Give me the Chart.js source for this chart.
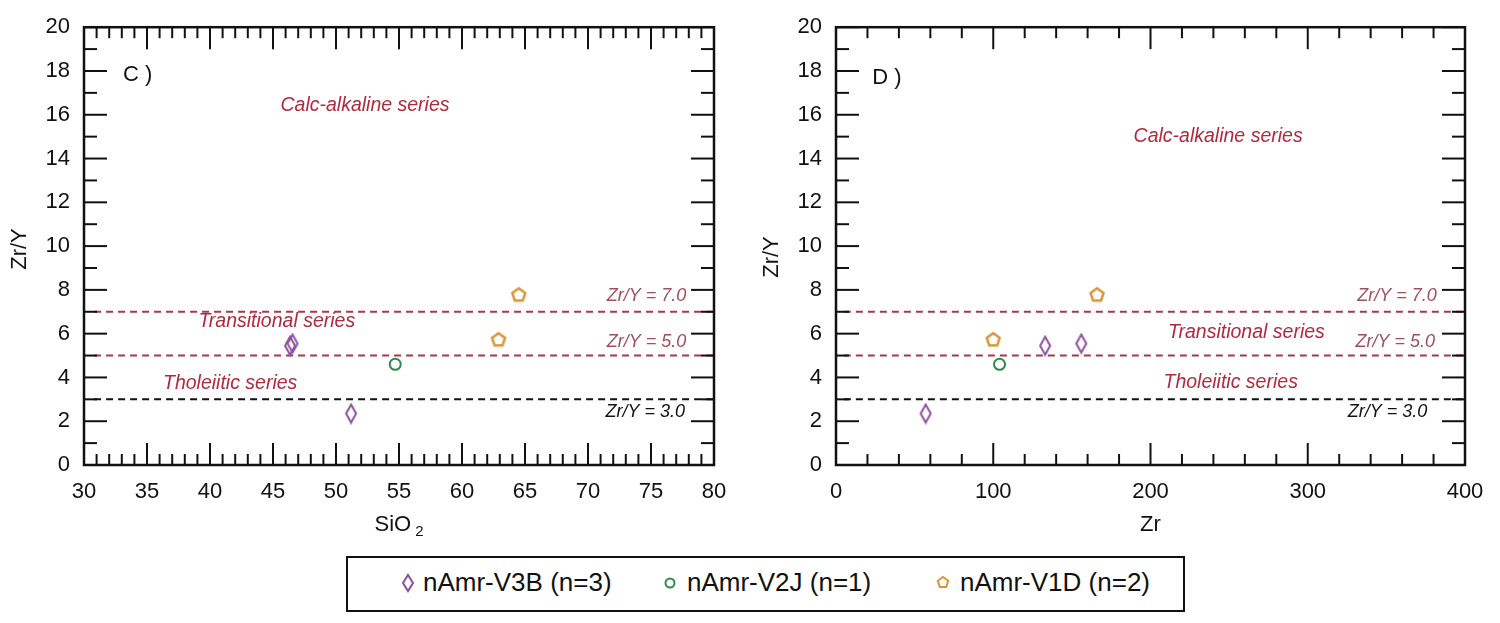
<!DOCTYPE html>
<html lang="en">
<head>
<meta charset="UTF-8">
<title>Zr/Y diagrams</title>
<script src="https://cdn.jsdelivr.net/npm/chart.js"></script>
<style>
  body { margin: 0; background: #fff; font-family: 'Liberation Sans', Arial, sans-serif; }
  .janela { position: relative; width: 1500px; height: 623px; overflow: hidden; }
  .painel { position: absolute; top: 0; width: 750px; height: 540px; }
  .legenda { position: absolute; left: 346px; top: 556px; width: 835px; height: 52px; border: 2px solid #111; }
  .item { position: absolute; top: 9px; font-size: 26px; color: #111; white-space: nowrap; }
  .item svg { position: absolute; top: 6px; }
</style>
</head>
<body>
<div class="janela">
  <div class="painel" style="left:0"><canvas id="graficoC" width="750" height="540"></canvas></div>
  <div class="painel" style="left:750px"><canvas id="graficoD" width="750" height="540"></canvas></div>

  <div class="legenda">
    <div class="item" style="left:75px">
      <svg width="14" height="20" style="left:-22px"><path d="M7 2 L12 10 L7 18 L2 10 Z" fill="none" stroke="#8e4f9e" stroke-width="2"/></svg>
      nAmr-V3B (n=3)
    </div>
    <div class="item" style="left:339px">
      <svg width="14" height="20" style="left:-24px"><circle cx="7" cy="10" r="4.5" fill="none" stroke="#2f8a4c" stroke-width="2"/></svg>
      nAmr-V2J (n=1)
    </div>
    <div class="item" style="left:612px">
      <svg width="16" height="20" style="left:-25px"><path d="M8 4 L13.2 7.8 L11.2 14 L4.8 14 L2.8 7.8 Z" fill="none" stroke="#d8953a" stroke-width="2"/></svg>
      nAmr-V1D (n=2)
    </div>
  </div>
</div>

<script>
// valores
var zrY_V3B = [2.35, 5.45, 5.55];
var sio2_V3B = [51.2, 46.35, 46.55];
var zr_V3B = [57, 133, 156];

var zrY_V2J = [4.6];
var sio2_V2J = [54.7];
var zr_V2J = [104];

var zrY_V1D = [5.75, 7.8];
var sio2_V1D = [62.9, 64.5];
var zr_V1D = [100, 166];

// limites das series (linhas tracejadas)
var limites = [7.0, 5.0, 3.0];
var limiteCores = ['#a8394a', '#a8394a', '#111'];
var inicioC = 30.8, fimC = 80;
var inicioD = 5, fimD = 400;

var fonte = "'Liberation Sans', Arial, sans-serif";
var roxo = '#8e4f9e', verde = '#2f8a4c', laranja = '#d8953a';
var vermelho = '#b02a3c';

function pontos(xs, ys) {
    return xs.map(function (v, i) { return { x: v, y: ys[i] }; });
}

// marcadores desenhados em canvas pequeno
function losango() {
    var c = document.createElement('canvas');
    c.width = 14; c.height = 22;
    var g = c.getContext('2d');
    g.strokeStyle = roxo; g.lineWidth = 2;
    g.beginPath();
    g.moveTo(7, 2); g.lineTo(12, 11); g.lineTo(7, 20); g.lineTo(2, 11); g.closePath();
    g.stroke();
    return c;
}
function pentagono() {
    var c = document.createElement('canvas');
    c.width = 18; c.height = 18;
    var g = c.getContext('2d');
    g.strokeStyle = laranja; g.lineWidth = 2.5;
    g.beginPath();
    for (var k = 0; k < 5; k++) {
        var ang = -Math.PI / 2 + k * 2 * Math.PI / 5;
        var px = 9 + 6.8 * Math.cos(ang), py = 9.8 + 6.8 * Math.sin(ang);
        if (k == 0) g.moveTo(px, py); else g.lineTo(px, py);
    }
    g.closePath();
    g.stroke();
    return c;
}
var imgLosango = losango();
var imgPentagono = pentagono();

function linhasLimite(ini, fim) {
    return limites.map(function (v, i) {
        return {
            type: 'line',
            data: [{ x: ini, y: v }, { x: fim, y: v }],
            borderColor: limiteCores[i],
            borderWidth: 2,
            borderDash: [7, 5],
            pointRadius: 0,
            showLine: true,
            order: 10
        };
    });
}

function seriesAmostras(xV3B, xV2J, xV1D) {
    return [
        { label: 'nAmr-V3B (n=3)', data: pontos(xV3B, zrY_V3B), pointStyle: imgLosango, pointRadius: 8, order: 1 },
        { label: 'nAmr-V2J (n=1)', data: pontos(xV2J, zrY_V2J), pointStyle: 'circle', pointRadius: 5.5,
          borderColor: verde, borderWidth: 2, backgroundColor: 'rgba(0,0,0,0)', order: 1 },
        { label: 'nAmr-V1D (n=2)', data: pontos(xV1D, zrY_V1D), pointStyle: imgPentagono, pointRadius: 8, order: 1 }
    ];
}

// ticks para dentro, moldura e textos
const moldura = {
    id: 'moldura',
    afterDraw(chart, args, o) {
        var ctx = chart.ctx, a = chart.chartArea;
        var x = chart.scales.x, y = chart.scales.y;
        ctx.save();
        ctx.strokeStyle = '#111';
        ctx.lineWidth = 2;
        function traco(x1, y1, x2, y2) { ctx.beginPath(); ctx.moveTo(x1, y1); ctx.lineTo(x2, y2); ctx.stroke(); }
        for (var v = x.min; v <= x.max + 1e-9; v += o.xMenor) {
            var px = x.getPixelForValue(v);
            var maior = Math.abs(v / o.xMaior - Math.round(v / o.xMaior)) < 1e-6;
            var len = maior ? 22 : 11;
            traco(px, a.bottom, px, a.bottom - len);
            traco(px, a.top, px, a.top + len);
        }
        for (var w = y.min; w <= y.max + 1e-9; w += 1) {
            var py = y.getPixelForValue(w);
            var len2 = (w % 2 == 0) ? 23 : 13;
            traco(a.left, py, a.left + len2, py);
            traco(a.right, py, a.right - len2, py);
        }
        ctx.lineWidth = 2.5;
        ctx.strokeRect(a.left, a.top, a.right - a.left, a.bottom - a.top);

        // textos dentro do grafico
        ctx.textBaseline = 'middle';
        o.textos.forEach(function (t) {
            ctx.font = t.fonte;
            ctx.fillStyle = t.cor;
            ctx.textAlign = t.alinha || 'center';
            ctx.fillText(t.texto, x.getPixelForValue(t.x), y.getPixelForValue(t.y));
        });

        // titulos dos eixos
        ctx.fillStyle = '#111';
        ctx.font = '22px ' + fonte;
        ctx.save();
        ctx.translate(o.yTituloX, o.yTituloY);
        ctx.rotate(-Math.PI / 2);
        ctx.textAlign = 'center';
        ctx.fillText('Zr/Y', 0, 0);
        ctx.restore();

        var cx = (a.left + a.right) / 2, cy = 525;
        if (o.subscrito) {
            var w1 = ctx.measureText(o.xTitulo).width;
            ctx.font = '15px ' + fonte;
            var w2 = ctx.measureText(o.subscrito).width;
            var x0 = cx - (w1 + 4 + w2) / 2;
            ctx.textAlign = 'left';
            ctx.font = '22px ' + fonte;
            ctx.fillText(o.xTitulo, x0, cy);
            ctx.font = '15px ' + fonte;
            ctx.fillText(o.subscrito, x0 + w1 + 4, cy + 7);
        } else {
            ctx.textAlign = 'center';
            ctx.fillText(o.xTitulo, cx, cy);
        }
        ctx.restore();
    }
};
Chart.register(moldura);

function opcoes(xMin, xMax, xPasso, xMenor, yLargura, dirPad, extra) {
    return {
        responsive: false,
        animation: false,
        layout: { padding: { top: 24, right: dirPad, left: 0, bottom: 0 } },
        plugins: {
            legend: { display: false },
            tooltip: { enabled: false },
            moldura: Object.assign({ xMaior: xPasso, xMenor: xMenor }, extra)
        },
        scales: {
            x: {
                type: 'linear', min: xMin, max: xMax,
                grid: { display: false, drawTicks: false },
                border: { display: false },
                ticks: { stepSize: xPasso, padding: 14, color: '#111', maxRotation: 0, autoSkip: false,
                         font: { family: fonte, size: 22 } },
                afterFit: function (s) { s.height = 540 - 465; }
            },
            y: {
                min: 0, max: 20,
                grid: { display: false, drawTicks: false },
                border: { display: false },
                ticks: { stepSize: 2, padding: 14, color: '#111', font: { family: fonte, size: 22 } },
                afterFit: function (s) { s.width = yLargura; }
            }
        }
    };
}

var italico = 'italic 19.5px ' + fonte;
var italicoP = 'italic 18px ' + fonte;

new Chart(document.getElementById('graficoC'), {
    type: 'scatter',
    data: { datasets: linhasLimite(inicioC, fimC).concat(seriesAmostras(sio2_V3B, sio2_V2J, sio2_V1D)) },
    options: opcoes(30, 80, 5, 1, 84, 36, {
        yTituloX: 20, yTituloY: 249, xTitulo: 'SiO', subscrito: '2',
        textos: [
            { texto: 'C )', x: 33.1, y: 17.8, cor: '#111', fonte: '22px ' + fonte, alinha: 'left' },
            { texto: 'Calc-alkaline series', x: 52.3, y: 16.4, cor: vermelho, fonte: italico },
            { texto: 'Transitional series', x: 45.3, y: 6.55, cor: vermelho, fonte: italico },
            { texto: 'Tholeiitic series', x: 41.6, y: 3.7, cor: vermelho, fonte: italico },
            { texto: 'Zr/Y = 7.0', x: 77.8, y: 7.7, cor: '#a0505a', fonte: italicoP, alinha: 'right' },
            { texto: 'Zr/Y = 5.0', x: 77.8, y: 5.6, cor: '#a0505a', fonte: italicoP, alinha: 'right' },
            { texto: 'Zr/Y = 3.0', x: 77.7, y: 2.4, cor: '#111', fonte: italicoP, alinha: 'right' }
        ]
    })
});

new Chart(document.getElementById('graficoD'), {
    type: 'scatter',
    data: { datasets: linhasLimite(inicioD, fimD).concat(seriesAmostras(zr_V3B, zr_V2J, zr_V1D)) },
    options: opcoes(0, 400, 100, 20, 86, 35, {
        yTituloX: 22, yTituloY: 257, xTitulo: 'Zr',
        textos: [
            { texto: 'D )', x: 23, y: 17.7, cor: '#111', fonte: '22px ' + fonte, alinha: 'left' },
            { texto: 'Calc-alkaline series', x: 243, y: 15.0, cor: vermelho, fonte: italico },
            { texto: 'Transitional series', x: 261, y: 6.05, cor: vermelho, fonte: italico },
            { texto: 'Tholeiitic series', x: 251, y: 3.75, cor: vermelho, fonte: italico },
            { texto: 'Zr/Y = 7.0', x: 382, y: 7.7, cor: '#a0505a', fonte: italicoP, alinha: 'right' },
            { texto: 'Zr/Y = 5.0', x: 381, y: 5.6, cor: '#a0505a', fonte: italicoP, alinha: 'right' },
            { texto: 'Zr/Y = 3.0', x: 376, y: 2.4, cor: '#111', fonte: italicoP, alinha: 'right' }
        ]
    })
});
</script>
</body>
</html>
